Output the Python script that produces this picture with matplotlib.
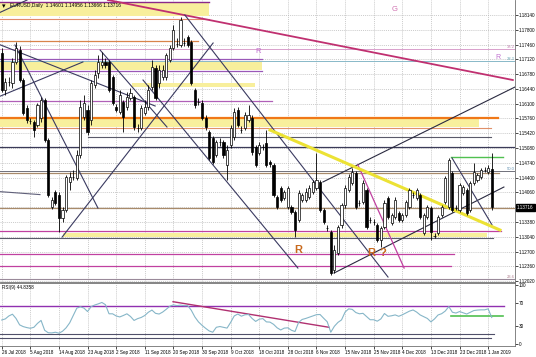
import matplotlib
matplotlib.use("Agg")
import matplotlib.pyplot as plt
import numpy as np

# EURUSD daily candles (26 Jul 2018 .. 2 Jan 2019)
opens = [1.17266, 1.16415, 1.16599, 1.16576, 1.17059, 1.17335, 1.16645, 1.16001, 1.15702, 1.15679,
         1.15610, 1.15771, 1.16185, 1.15265, 1.13724, 1.14069, 1.14000, 1.13471, 1.13655, 1.14299,
         1.14414, 1.14391, 1.14920, 1.15794, 1.15955, 1.15725, 1.16530, 1.16806, 1.16990, 1.17059,
         1.17059, 1.16714, 1.16024, 1.15909, 1.16139, 1.16024, 1.16231, 1.16254, 1.15541, 1.15541,
         1.15886, 1.16024, 1.16484, 1.16921, 1.16576, 1.16714, 1.16714, 1.17105, 1.17381, 1.17473,
         1.17450, 1.17496, 1.17634, 1.17519, 1.16415, 1.16139, 1.16116, 1.15771, 1.15449, 1.15311,
         1.14920, 1.15219, 1.15219, 1.14690, 1.15150, 1.15334, 1.15955, 1.15495, 1.15541, 1.15725,
         1.15771, 1.15104, 1.14966, 1.15104, 1.15196, 1.14759, 1.14690, 1.13954, 1.14161, 1.13931,
         1.13724, 1.13724, 1.13609, 1.13425, 1.13885, 1.13885, 1.13954, 1.14069, 1.14161, 1.14299,
         1.13655, 1.13241, 1.13149, 1.12275, 1.12666, 1.13310, 1.13770, 1.14115, 1.14276, 1.14506,
         1.13816, 1.13839, 1.14115, 1.13425, 1.13379, 1.13310, 1.12965, 1.13264, 1.13931, 1.13356,
         1.13494, 1.13586, 1.13425, 1.13540, 1.13724, 1.14000, 1.13931, 1.14000, 1.13126, 1.13494,
         1.13701, 1.13057, 1.13126, 1.13540, 1.13839, 1.13724, 1.14506, 1.13701, 1.13655, 1.14046,
         1.14115, 1.13655, 1.14276, 1.14345, 1.14414, 1.14575, 1.14529, 1.14601]
highs = [1.17381, 1.16691, 1.16714, 1.17151, 1.17519, 1.17427, 1.16691, 1.16070, 1.15771, 1.15725,
         1.16116, 1.16254, 1.16231, 1.15311, 1.13954, 1.14115, 1.14069, 1.13724, 1.14460, 1.14529,
         1.14575, 1.15035, 1.16185, 1.16300, 1.16070, 1.16645, 1.16875, 1.17220, 1.17289, 1.17151,
         1.17105, 1.16760, 1.16093, 1.16415, 1.16185, 1.16369, 1.16461, 1.16300, 1.15633, 1.16070,
         1.16185, 1.16530, 1.17105, 1.16990, 1.16990, 1.16990, 1.17266, 1.17450, 1.17910, 1.17611,
         1.18094, 1.17611, 1.17680, 1.17565, 1.16461, 1.16231, 1.16185, 1.15840, 1.15495, 1.15357,
         1.15265, 1.15311, 1.15265, 1.15150, 1.15610, 1.16001, 1.16024, 1.15587, 1.15909, 1.16070,
         1.15840, 1.15150, 1.15219, 1.15173, 1.15495, 1.14805, 1.14736, 1.14000, 1.14207, 1.14115,
         1.14207, 1.13770, 1.13655, 1.14115, 1.14046, 1.14161, 1.14230, 1.14345, 1.14966, 1.14345,
         1.13701, 1.13310, 1.13195, 1.12850, 1.13310, 1.13816, 1.14230, 1.14483, 1.14621, 1.14552,
         1.13885, 1.14345, 1.14161, 1.13494, 1.13448, 1.13356, 1.13287, 1.13885, 1.13977, 1.13586,
         1.13954, 1.13632, 1.13586, 1.13885, 1.14161, 1.14069, 1.14161, 1.14046, 1.13586, 1.13770,
         1.13747, 1.13126, 1.13540, 1.13770, 1.14437, 1.14851, 1.14552, 1.13770, 1.14276, 1.14230,
         1.14161, 1.14322, 1.14736, 1.14506, 1.14621, 1.14644, 1.14690, 1.14956]
lows = [1.16369, 1.16300, 1.16507, 1.16461, 1.17013, 1.16599, 1.15840, 1.15656, 1.15633, 1.15334,
        1.15564, 1.15679, 1.15219, 1.13954, 1.13678, 1.13770, 1.13149, 1.13379, 1.13609, 1.14115,
        1.14345, 1.14345, 1.14851, 1.15725, 1.15380, 1.15610, 1.16461, 1.16691, 1.16921, 1.16921,
        1.16369, 1.16070, 1.15909, 1.15863, 1.15449, 1.15955, 1.16185, 1.15495, 1.15449, 1.15495,
        1.15840, 1.15955, 1.16415, 1.16185, 1.16461, 1.16645, 1.16645, 1.17059, 1.17335, 1.17404,
        1.17404, 1.17427, 1.17404, 1.16530, 1.16001, 1.16070, 1.15725, 1.15495, 1.14805, 1.14713,
        1.14874, 1.15127, 1.14851, 1.14345, 1.15081, 1.15265, 1.15564, 1.15426, 1.15495, 1.15679,
        1.14920, 1.14644, 1.14920, 1.15035, 1.14644, 1.14644, 1.13954, 1.13678, 1.13839, 1.13885,
        1.13678, 1.13563, 1.13034, 1.13379, 1.13839, 1.13839, 1.13908, 1.14023, 1.14115, 1.13609,
        1.13333, 1.13172, 1.12160, 1.12206, 1.12620, 1.13241, 1.13701, 1.14069, 1.14230, 1.13678,
        1.13747, 1.13793, 1.13218, 1.13356, 1.13310, 1.12919, 1.12804, 1.13218, 1.13448, 1.13310,
        1.13448, 1.13379, 1.13379, 1.13494, 1.13678, 1.13931, 1.13885, 1.13448, 1.13080, 1.13448,
        1.12965, 1.13011, 1.13080, 1.13494, 1.13793, 1.13678, 1.13609, 1.13655, 1.13609, 1.14000,
        1.13540, 1.13609, 1.14230, 1.14299, 1.14368, 1.14529, 1.14483, 1.13666]
closes = [1.16415, 1.16599, 1.16590, 1.17059, 1.17381, 1.16645, 1.15886, 1.15725, 1.15695, 1.15495,
          1.16070, 1.16185, 1.15265, 1.14000, 1.13885, 1.13816, 1.13471, 1.13655, 1.14414, 1.14414,
          1.14405, 1.14920, 1.16024, 1.16116, 1.15449, 1.16576, 1.16760, 1.17059, 1.17059, 1.16990,
          1.16415, 1.16116, 1.15955, 1.16300, 1.15794, 1.16254, 1.16346, 1.15564, 1.15530, 1.16001,
          1.16024, 1.16415, 1.16944, 1.16231, 1.16875, 1.16875, 1.17220, 1.17381, 1.17795, 1.17465,
          1.18025, 1.17490, 1.17450, 1.16576, 1.16070, 1.16130, 1.15771, 1.15564, 1.14851, 1.14759,
          1.15219, 1.15210, 1.14920, 1.15035, 1.15541, 1.15909, 1.15610, 1.15490, 1.15840, 1.15840,
          1.14989, 1.14690, 1.15150, 1.15095, 1.14690, 1.14713, 1.14000, 1.13724, 1.13885, 1.14069,
          1.14161, 1.13609, 1.13195, 1.14046, 1.14000, 1.14069, 1.14161, 1.14299, 1.14345, 1.13655,
          1.13379, 1.13235, 1.12206, 1.12735, 1.13264, 1.13770, 1.14161, 1.14414, 1.14529, 1.13724,
          1.13810, 1.14276, 1.13264, 1.13420, 1.13370, 1.12965, 1.13241, 1.13816, 1.13494, 1.13540,
          1.13885, 1.13425, 1.13540, 1.13839, 1.14115, 1.13995, 1.14115, 1.13494, 1.13540, 1.13724,
          1.13149, 1.13050, 1.13494, 1.13724, 1.14391, 1.14805, 1.13655, 1.13695, 1.14230, 1.14184,
          1.13586, 1.14276, 1.14529, 1.14460, 1.14575, 1.14570, 1.14621, 1.13716]

rsi = [40.5, 42.4, 47.5, 50.5, 43.2, 32.2, 29.2, 27.5, 26.3, 28.0,
       34.7, 39.8, 22.9, 18.6, 18.3, 19.5, 17.8, 21.2, 27.1, 35.6,
       48.3, 61.0, 63.2, 61.0, 55.1, 63.6, 66.3, 68.3, 70.7, 66.9,
       51.2, 51.2, 47.5, 45.8, 48.3, 51.2, 46.6, 39.8, 42.9, 44.9,
       48.3, 53.9, 57.6, 52.0, 50.8, 54.2, 59.0, 64.2, 66.6, 65.3,
       66.1, 65.3, 65.3, 57.3, 45.8, 37.3, 31.4, 26.3, 21.7, 19.5,
       28.0, 29.3, 28.0, 26.6, 36.4, 47.5, 50.8, 47.1, 49.5, 50.0,
       43.2, 38.1, 42.0, 42.9, 37.3, 36.9, 33.1, 27.1, 23.4, 26.6,
       27.1, 22.9, 20.7, 36.4, 41.5, 43.2, 45.4, 47.8, 49.7, 50.0,
       43.6, 37.5, 19.5, 29.7, 36.4, 40.7, 54.2, 59.7, 58.8, 53.4,
       51.2, 52.0, 46.6, 41.0, 41.0, 38.5, 42.4, 51.7, 46.9, 47.8,
       49.3, 46.9, 49.5, 52.7, 55.8, 57.8, 54.2, 49.2, 46.1, 43.2,
       37.3, 42.4, 49.2, 51.4, 55.9, 63.6, 53.9, 52.5, 55.1, 52.9,
       50.8, 53.7, 56.8, 57.6, 58.0, 58.0, 59.7, 44.84]

date_labels = ["26 Jul 2018", "5 Aug 2018", "14 Aug 2018", "23 Aug 2018", "2 Sep 2018",
               "11 Sep 2018", "20 Sep 2018", "30 Sep 2018", "9 Oct 2018", "18 Oct 2018",
               "28 Oct 2018", "6 Nov 2018", "15 Nov 2018", "25 Nov 2018", "4 Dec 2018",
               "13 Dec 2018", "23 Dec 2018", "1 Jan 2019"]
price_ticks = [1.18140, 1.17800, 1.17460, 1.17120, 1.16780, 1.16440, 1.16100, 1.15760, 1.15420,
               1.15080, 1.14740, 1.14400, 1.14060, 1.13720, 1.13380, 1.13040, 1.12700, 1.12360, 1.12020]
rsi_ticks = [0, 30, 70, 100]

# hand drawn objects on the chart: (price, bar_from, bar_to, colour, width)
levels = [
    (1.18439, -1, 57.9, "#8a2a8a", 1.0),
    (1.18048, -1, 57.9, "#e08a6a", 0.8),
    (1.17542, -1, 54.9, "#d8844a", 0.9),
    (1.17347, -1, 144, "#d9a0cc", 0.7),
    (1.17128, -1, 72.8, "#9a58b8", 0.9),
    (1.17082, -1, 144, "#88b8c8", 0.7),
    (1.16852, -1, 72.8, "#9a58b8", 0.9),
    (1.16162, -1, 75.6, "#b060b8", 0.9),
    (1.15771, -1, 138.7, "#f07818", 1.6),
    (1.15541, -1, 136.8, "#e0906a", 0.8),
    (1.15323, 24.1, 136.8, "#5a5a6a", 0.8),
    (1.15093, -1, 144, "#3a3a58", 0.9),
    (1.14552, -1, 144, "#70707a", 0.7),
    (1.14505, -1, 139.0, "#a88a6a", 0.9),
    (1.13701, -1, 144, "#a88a6a", 0.9),
    (1.13172, -1, 139.6, "#c040a0", 0.9),
    (1.13011, -1, 137.4, "#5a5a6a", 0.8),
    (1.12643, -1, 126.4, "#c040a0", 0.9),
    (1.12367, -1, 125.6, "#c040a0", 0.9),
    (1.12068, -1, 144, "#9a8a9a", 0.8),
    (1.14874, 125.6, 140.2, "#50c050", 1.0),
]
# yellow zones: (price_low, price_high, bar_from, bar_to)
zones = [
    (1.18117, 1.18416, -1, 57.9),
    (1.16875, 1.17082, -1, 72.8),
    (1.16484, 1.16576, 36.4, 70.8),
    (1.15564, 1.15748, -1, 133.4),
    (1.13034, 1.13126, 17.1, 135.7),
]
# trend lines: (bar0, price0, bar1, price1, colour, width)
trends = [
    (29.7, 1.18485, 142.9, 1.16645, "#c03070", 1.3),
    (3.7, 1.17450, 26.9, 1.13701, "#3a3a60", 0.8),
    (-1, 1.17473, 42.9, 1.16047, "#3a3a60", 0.8),
    (16.9, 1.13034, 59.1, 1.17496, "#3a3a60", 0.8),
    (-1, 1.16254, 22.7, 1.17060, "#3a3a60", 0.8),
    (-1, 1.18180, 7.1, 1.18485, "#3a3a60", 0.8),
    (27.5, 1.17335, 46.2, 1.15564, "#3a3a60", 0.8),
    (51.2, 1.18140, 108.0, 1.12114, "#3a3a60", 0.8),
    (39.5, 1.16645, 82.8, 1.12321, "#3a3a60", 0.8),
    (92.9, 1.12206, 140.4, 1.14184, "#2a2a40", 0.8),
    (89.8, 1.14300, 143.5, 1.16484, "#2a2a40", 0.8),
    (99.6, 1.14690, 112.5, 1.12321, "#c040a0", 0.9),
    (125.9, 1.14850, 137.1, 1.13310, "#3a3a60", 0.8),
    (-1, 1.14081, 10.7, 1.14010, "#60607a", 0.8),
]
yellow_trend = (75.0, 1.15495, 139.3, 1.13195)

plt.rcParams['font.family'] = ['Liberation Sans', 'DejaVu Sans']

fig = plt.figure(figsize=(5.36, 3.57), dpi=100)
ax = fig.add_axes([0, 0.2101, 0.9608, 0.7899])
ax2 = fig.add_axes([0, 0.0308, 0.9608, 0.1765], sharex=ax)

x = np.arange(len(closes))
o = np.array(opens)
c = np.array(closes)
up = c >= o
bottom = np.minimum(o, c)
height = np.maximum(np.abs(c - o), 0.00005)

grid_kw = dict(color="#b8b8b8", lw=0.5, ls=(0, (1.5, 1.5)), zorder=0)
for k in range(len(date_labels)):
    ax.axvline(8 * k, **grid_kw)
    ax2.axvline(8 * k, **grid_kw)
for p in price_ticks:
    ax.axhline(p, **grid_kw)

for lo, hi, b0, b1 in zones:
    ax.fill_between([b0, b1], lo, hi, color="#f8ef9c", lw=0, zorder=1)
for p, b0, b1, col, lw in levels:
    ax.plot([b0, b1], [p, p], color=col, lw=lw, zorder=2)
for b0, p0, b1, p1, col, lw in trends:
    ax.plot([b0, b1], [p0, p1], color=col, lw=lw, zorder=2)
ax.plot(yellow_trend[0::2], yellow_trend[1::2], color="#ece234", lw=2.2, zorder=2)

ax.vlines(x, lows, highs, color="black", lw=0.6, zorder=3)
ax.bar(x[up], height[up], bottom=bottom[up], width=0.6, color="white",
       edgecolor="black", lw=0.5, zorder=4)
ax.bar(x[~up], height[~up], bottom=bottom[~up], width=0.6, color="black",
       edgecolor="black", lw=0.5, zorder=4)

ax.set_xlim(-0.48, 143.5)
ax.set_ylim(1.1200, 1.18485)
ax.yaxis.tick_right()
ax.set_yticks(price_ticks)
ax.set_yticklabels(["" if abs(p - 1.1372) < 1e-6 else "%.5f" % p for p in price_ticks])
ax.tick_params(axis="y", labelsize=3.3, length=2, width=0.5, pad=1, colors="black")
ax.tick_params(axis="x", bottom=False, labelbottom=False)
for s in ["left", "top"]:
    ax.spines[s].set_visible(False)
for s in ["right", "bottom"]:
    ax.spines[s].set_color("#707070")
    ax.spines[s].set_linewidth(0.6)

# current price tag
ax.text(1.004, (closes[-1] - 1.1200) / (1.18485 - 1.1200), "%.5f" % closes[-1],
        transform=ax.transAxes, fontsize=3.3, color="white", va="center", ha="left",
        bbox=dict(boxstyle="square,pad=0.2", fc="black", ec="black"), clip_on=False)

# header and labels
ax.text(0.004, 0.988, "\u25be", transform=ax.transAxes, fontsize=5, va="top",
        family="DejaVu Sans")
ax.text(0.02, 0.988, "EURUSD,Daily  1.14601 1.14956 1.13666 1.13716",
        transform=ax.transAxes, fontsize=3.5, va="top")
ax.text(109.9, 1.18278, "G", color="#d070b0", fontsize=5.5, ha="center", va="center")
ax.text(71.7, 1.17300, "R", color="#c070d0", fontsize=5.5, ha="center", va="center")
ax.text(138.6, 1.17170, "R", color="#c070d0", fontsize=5, ha="center", va="center")
ax.text(143.3, 1.17400, "38.2", color="#c080b0", fontsize=3, ha="right", va="center")
ax.text(143.3, 1.17130, "38.2", color="#60a0b0", fontsize=3, ha="right", va="center")
ax.text(143.3, 1.14600, "50.0", color="#6090b0", fontsize=3, ha="right", va="center")
ax.text(143.3, 1.12110, "23.6", color="#b08090", fontsize=3, ha="right", va="center")
ax.text(82.8, 1.12735, "R", color="#c86a1e", fontsize=8, fontweight="bold",
        ha="center", va="center")
ax.text(103.2, 1.12666, "R", color="#c86a1e", fontsize=8, fontweight="bold",
        ha="center", va="center")
ax.text(106.6, 1.12666, "?", color="#c86a1e", fontsize=8, fontweight="bold",
        ha="center", va="center")

# RSI panel
ax2.plot(x, rsi, color="#86b6c8", lw=0.8, zorder=3)
ax2.plot([-1, 140.3], [65.3, 65.3], color="#9030b0", lw=1.0, zorder=2)
ax2.plot([-1, 137.6], [16.9, 16.9], color="#50506a", lw=0.8, zorder=2)
ax2.plot([-1, 136.8], [9.3, 9.3], color="#50506a", lw=0.8, zorder=2)
ax2.plot([125.6, 140.2], [46.6, 46.6], color="#50c050", lw=1.2, zorder=2)
ax2.plot([47.9, 91.5], [72.0, 28.0], color="#b03070", lw=1.0, zorder=2)
ax2.set_ylim(-4.2, 104.2)
ax2.yaxis.tick_right()
ax2.set_yticks(rsi_ticks)
ax2.tick_params(axis="y", labelsize=3.3, length=2, width=0.5, pad=1)
ax2.set_xticks([8 * k for k in range(len(date_labels))])
ax2.set_xticklabels(date_labels, ha="left")
ax2.tick_params(axis="x", labelsize=3.3, length=2, width=0.5, pad=1)
for s in ["left"]:
    ax2.spines[s].set_visible(False)
for s in ["right", "bottom", "top"]:
    ax2.spines[s].set_color("#707070")
    ax2.spines[s].set_linewidth(0.6)
ax2.text(0.004, 0.97, "RSI(9) 44.8358", transform=ax2.transAxes, fontsize=3.3, va="top")

fig.savefig("out.png", dpi=100, facecolor="white")
